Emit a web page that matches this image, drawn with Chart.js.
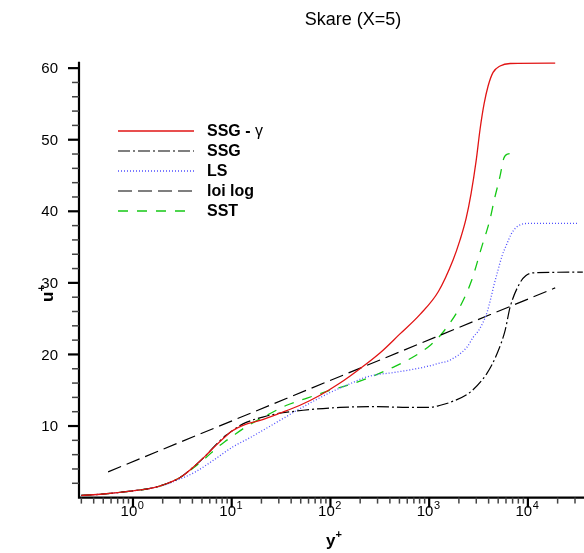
<!DOCTYPE html>
<html>
<head>
<meta charset="utf-8">
<script src="https://cdn.jsdelivr.net/npm/chart.js"></script>
<style>
body { margin: 0; background: #fff; }
#wrap { width: 584px; height: 553px; }
</style>
</head>
<body>
<div id="wrap"><canvas id="canvas" width="584" height="553"></canvas></div>
<script>
var xMin = 0.284;
var xMax = 37000;
var yMin = 0;
var yMax = 60.9;
var yTickLabels = [10, 20, 30, 40, 50, 60];
var xTickExps = [0, 1, 2, 3, 4];
var chartTitle = "Skare (X=5)";
var seriesNames = ["SSG - ", "SSG", "LS", "loi log", "SST"];

// SSG - gamma (red)
var ssgGammaX = [0.3, 0.5, 1, 1.5, 2, 3, 3.96, 5.49, 6.93, 8.76, 10.06, 11.3, 13.6, 19.4, 30.8, 49.2, 78.5, 125, 199, 317, 500, 809, 1240, 1746, 2055, 2367, 2660, 2987, 3280, 3598, 3953, 4439, 5226, 6605, 18900];
var ssgGammaU = [0.3, 0.5, 0.95, 1.3, 1.75, 2.8, 4.1, 5.9, 7.3, 8.6, 9.3, 9.7, 10.2, 10.8, 11.8, 12.9, 14.3, 16.0, 18.0, 20.2, 22.8, 25.6, 28.8, 33.2, 36.0, 39.0, 42.5, 47.0, 51.5, 55.0, 57.5, 59.4, 60.3, 60.65, 60.7];
// SSG (black dash-dot)
var ssgX = [0.3, 0.5, 1, 1.5, 2, 3, 3.96, 5.49, 6.93, 8.76, 10.06, 11.3, 13, 16, 20, 26, 53, 125, 295, 600, 1000, 1300, 1620, 2590, 3860, 4900, 5890, 6600, 8300, 9500, 11300, 36000];
var ssgU = [0.3, 0.5, 0.95, 1.3, 1.75, 2.8, 4.1, 5.9, 7.4, 8.7, 9.3, 9.8, 10.3, 10.8, 11.2, 11.6, 12.2, 12.6, 12.7, 12.6, 12.6, 12.9, 13.3, 14.7, 17.4, 20.2, 23.4, 26.6, 30.0, 31.0, 31.4, 31.5];
// LS (blue dotted)
var lsX = [0.3, 0.5, 1, 1.5, 2, 3, 4.3, 6.5, 10.3, 15, 20.7, 30, 46, 70, 100, 170, 214, 300, 400, 870, 1290, 1620, 2410, 2790, 3150, 3516, 3863, 4238, 4550, 4875, 5480, 6150, 6760, 7420, 8340, 9820, 31500];
var lsU = [0.3, 0.5, 0.95, 1.3, 1.7, 2.6, 3.6, 5.2, 7.1, 8.3, 9.4, 10.7, 12.2, 13.6, 14.7, 16.1, 16.7, 17.2, 17.4, 18.2, 18.8, 19.2, 21.0, 22.4, 23.3, 24.5, 25.9, 28.0, 29.8, 31.3, 33.8, 35.5, 36.8, 37.6, 38.1, 38.3, 38.3];
// loi log (black long dash)
var logLawX = [0.56, 18900];
var logLawU = [3.6, 29.3];
// SST (green dashed)
var sstX = [0.3, 0.5, 1, 1.5, 2, 3, 3.96, 5.5, 7, 8.5, 10, 14, 22.7, 36, 58, 100, 150, 250, 430, 660, 1050, 1380, 2040, 2700, 3400, 4100, 4600, 5200, 5700, 6200, 8000];
var sstU = [0.3, 0.5, 0.95, 1.3, 1.75, 2.8, 4.0, 5.6, 6.9, 7.8, 8.5, 9.9, 11.5, 12.9, 13.9, 15.0, 15.7, 16.8, 18.2, 19.5, 21.4, 23.1, 26.6, 30.4, 35.0, 38.7, 41.8, 44.8, 47.4, 48.0, 48.1];

var font = 'Arial, "Liberation Sans", sans-serif';

function toPoints(xs, ys) {
    var pts = [];
    for (var i = 0; i < xs.length; i++) {
        pts.push({ x: xs[i], y: ys[i] });
    }
    return pts;
}

function makeSet(label, xs, ys, color, dash, width) {
    return {
        label: label,
        data: toPoints(xs, ys),
        borderColor: color,
        borderWidth: width,
        borderDash: dash,
        pointRadius: 0,
        showLine: true,
        fill: false,
        cubicInterpolationMode: 'monotone'
    };
}

var datasets = [
    makeSet(seriesNames[0], ssgGammaX, ssgGammaU, "rgb(225,20,20)", [], 1.3),
    makeSet(seriesNames[1], ssgX, ssgU, "#000", [12, 3, 2, 3], 1.2),
    makeSet(seriesNames[2], lsX, lsU, "rgb(80,80,255)", [1, 2], 1.3),
    makeSet(seriesNames[3], logLawX, logLawU, "#000", [14, 6], 1.2),
    makeSet(seriesNames[4], sstX, sstU, "rgb(20,200,20)", [10, 9], 1.3)
];

var axesPlugin = {
    id: 'axesPlugin',
    afterDraw: function(chart) {
        var ctx = chart.ctx;
        var xs = chart.scales.x;
        var ys = chart.scales.y;
        var area = chart.chartArea;
        var y0 = ys.getPixelForValue(yMin);
        ctx.save();
        ctx.strokeStyle = "#000";
        ctx.fillStyle = "#000";

        // axis lines
        ctx.lineWidth = 2.2;
        ctx.beginPath();
        ctx.moveTo(area.left, ys.getPixelForValue(yMax));
        ctx.lineTo(area.left, y0);
        ctx.lineTo(area.right, y0);
        ctx.stroke();

        // y ticks
        for (var v = 2; v <= 60; v += 2) {
            var py = ys.getPixelForValue(v);
            var major = v % 10 === 0;
            ctx.lineWidth = major ? 2.2 : 1.5;
            ctx.strokeStyle = major ? "#000" : "#444";
            ctx.beginPath();
            ctx.moveTo(area.left - (major ? 11 : 7), py);
            ctx.lineTo(area.left, py);
            ctx.stroke();
        }
        ctx.font = "15px " + font;
        ctx.textAlign = "right";
        ctx.textBaseline = "middle";
        yTickLabels.forEach(function(t) {
            ctx.fillText(String(t), 58, ys.getPixelForValue(t) + 1);
        });

        // x ticks
        for (var d = -1; d <= 4; d++) {
            for (var k = 1; k <= 9; k++) {
                var val = k * Math.pow(10, d);
                if (val < xMin || val > xMax) continue;
                var px = xs.getPixelForValue(val);
                var isMajor = k === 1;
                ctx.lineWidth = isMajor ? 2.2 : 1.5;
                ctx.strokeStyle = isMajor ? "#000" : "#444";
                ctx.beginPath();
                ctx.moveTo(px, y0);
                ctx.lineTo(px, y0 + (isMajor ? 10 : 6));
                ctx.stroke();
            }
        }
        ctx.textBaseline = "alphabetic";
        ctx.textAlign = "left";
        xTickExps.forEach(function(e) {
            var px = xs.getPixelForValue(Math.pow(10, e));
            ctx.font = "15px " + font;
            var w1 = ctx.measureText("10").width;
            ctx.font = "11px " + font;
            var w2 = ctx.measureText(String(e)).width;
            var left = px - (w1 + w2) / 2 - 1;
            ctx.font = "15px " + font;
            ctx.fillText("10", left, 516);
            ctx.font = "11px " + font;
            ctx.fillText(String(e), left + w1 + 0.5, 509);
        });

        // axis titles
        ctx.font = "bold 17px " + font;
        var wy = ctx.measureText("y").width;
        ctx.fillText("y", 326, 546);
        ctx.font = "bold 11px " + font;
        ctx.fillText("+", 326 + wy, 538);

        ctx.save();
        ctx.translate(53, 302);
        ctx.rotate(-Math.PI / 2);
        ctx.font = "bold 17px " + font;
        var wu = ctx.measureText("u").width;
        ctx.fillText("u", 0, 0);
        ctx.font = "bold 11px " + font;
        ctx.fillText("+", wu, -8);
        ctx.restore();

        // title
        ctx.font = "18px " + font;
        ctx.textAlign = "center";
        ctx.fillText(chartTitle, 353, 25);

        // legend
        var rows = [131, 151, 171, 191, 211];
        ctx.textAlign = "left";
        ctx.textBaseline = "middle";
        chart.data.datasets.forEach(function(ds, i) {
            ctx.strokeStyle = ds.borderColor;
            ctx.lineWidth = ds.borderWidth;
            ctx.setLineDash(ds.borderDash);
            ctx.beginPath();
            ctx.moveTo(118, rows[i]);
            ctx.lineTo(194, rows[i]);
            ctx.stroke();
            ctx.setLineDash([]);
            ctx.fillStyle = "#000";
            ctx.font = "bold 16px " + font;
            ctx.fillText(ds.label, 207, rows[i] + 1);
            if (i === 0) {
                var wl = ctx.measureText(ds.label).width;
                ctx.font = "16px " + font;
                ctx.fillText("γ", 207 + wl, rows[i] + 1);
            }
        });
        ctx.restore();
    }
};

var ctx = document.getElementById('canvas').getContext('2d');
var myChart = new Chart(ctx, {
    type: 'scatter',
    data: { datasets: datasets },
    options: {
        responsive: false,
        animation: false,
        events: [],
        layout: { padding: { left: 79, right: 0, top: 61.7, bottom: 55.4 } },
        scales: {
            x: { type: 'logarithmic', min: xMin, max: xMax, display: false },
            y: { type: 'linear', min: yMin, max: yMax, display: false }
        },
        plugins: {
            legend: { display: false },
            tooltip: { enabled: false },
            title: { display: false }
        }
    },
    plugins: [axesPlugin]
});
</script>
</body>
</html>
